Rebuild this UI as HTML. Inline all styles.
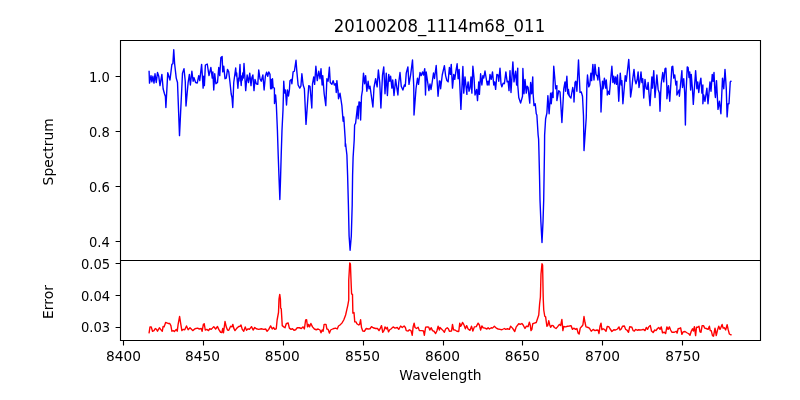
<!DOCTYPE html>
<html lang="en"><head><meta charset="utf-8"><title>20100208_1114m68_011</title>
<style>html,body{margin:0;padding:0;background:#fff;}body{width:800px;height:400px;overflow:hidden;}svg{display:block;}text{font-family:"DejaVu Sans","Liberation Sans",sans-serif;fill:#000;}</style></head><body>
<svg width="800" height="400" viewBox="0 0 800 400">
<rect x="0" y="0" width="800" height="400" fill="#fff"/>
<defs><clipPath id="cu"><rect x="120" y="40" width="640" height="220"/></clipPath><clipPath id="cl"><rect x="120" y="260" width="640" height="80"/></clipPath></defs>
<g clip-path="url(#cu)"><polyline points="149.10,71.50 149.50,83.12 151.00,75.62 151.88,81.88 152.88,76.25 154.00,83.12 155.00,73.75 156.25,82.50 157.50,72.50 158.75,76.25 160.00,85.62 161.88,74.38 163.12,88.75 164.40,93.50 165.40,96.50 165.90,107.50 167.75,72.75 170.00,80.00 171.88,64.38 172.88,63.75 173.75,49.75 174.62,63.75 176.25,78.12 177.50,82.50 179.50,135.60 182.50,73.12 184.00,68.75 185.25,81.25 186.00,106.00 188.12,82.50 189.38,74.38 190.38,85.00 191.88,71.25 193.12,81.25 194.00,77.75 195.62,82.50 197.25,83.12 198.75,75.62 199.75,80.62 201.62,64.38 203.12,88.12 203.75,76.25 204.38,85.62 205.38,65.00 207.25,64.00 209.00,75.62 210.88,67.50 212.25,78.12 212.88,71.88 213.75,90.00 214.75,73.75 215.88,83.75 217.50,82.50 218.75,67.50 219.75,75.62 220.88,57.50 222.12,56.50 222.75,71.88 223.75,66.25 225.00,78.75 226.25,78.12 227.50,69.38 228.75,71.88 230.00,82.50 231.20,94.00 232.00,97.50 232.75,107.50 233.75,82.50 235.70,68.00 236.30,76.00 236.70,73.00 237.20,80.00 237.90,88.30 238.60,78.00 239.00,81.00 240.00,64.50 240.60,79.00 241.20,85.50 241.80,76.00 242.30,80.00 242.80,73.00 243.30,78.00 244.00,63.50 244.80,76.00 245.70,90.60 247.12,75.00 248.50,82.50 249.75,73.12 251.00,85.62 251.88,77.50 252.88,75.00 254.00,90.62 255.00,79.38 256.25,83.75 257.75,84.38 258.75,70.00 260.00,78.75 261.25,81.25 262.88,75.00 264.12,90.00 265.38,76.25 266.62,72.25 267.75,76.25 268.75,71.88 270.00,74.38 270.62,88.75 271.25,79.38 271.88,88.75 272.50,78.75 273.12,87.50 274.38,88.12 274.50,103.50 275.60,95.00 276.30,104.00 277.40,130.00 278.20,155.00 279.10,180.00 279.85,199.50 280.50,180.00 281.20,155.00 282.00,130.00 283.00,110.00 283.40,95.00 283.75,81.25 284.50,93.00 285.50,90.00 286.50,105.00 287.50,90.00 288.50,96.00 289.40,90.00 290.00,80.62 291.25,79.38 291.88,83.75 293.12,71.88 294.38,71.25 296.00,60.25 296.88,71.88 298.12,85.00 299.75,88.12 300.88,86.25 301.88,73.75 303.12,85.00 304.38,88.75 306.00,124.40 308.75,85.62 310.00,86.25 311.80,108.00 312.50,83.75 313.75,76.88 314.62,84.38 315.88,66.25 317.25,80.62 318.75,71.25 320.00,78.75 321.00,68.75 322.12,85.00 322.75,75.62 323.75,88.75 324.20,94.00 325.80,105.60 326.88,78.75 328.12,81.25 329.38,67.25 330.25,82.50 331.88,84.38 333.12,80.62 334.38,85.00 335.62,83.75 336.25,92.50 336.88,80.62 338.12,93.12 338.12,90.00 338.12,93.12 338.12,92.50 338.50,98.75 340.00,93.12 341.88,105.62 343.12,121.25 343.75,116.88 345.25,140.00 345.25,146.25 345.60,143.75 346.90,155.00 347.60,175.00 348.40,205.00 349.10,236.00 350.10,250.20 351.30,236.00 352.20,205.00 352.60,175.00 353.10,157.50 354.20,140.00 354.62,125.00 355.62,123.12 357.50,106.25 358.12,118.75 359.00,101.88 360.00,102.50 360.62,120.00 361.50,96.25 362.50,90.00 362.50,87.50 363.50,73.12 364.62,83.75 365.62,75.62 366.88,91.25 368.12,81.25 369.00,88.75 370.00,86.25 372.90,107.00 374.00,87.50 375.62,78.75 377.12,86.88 378.38,70.00 379.75,82.50 380.90,108.00 382.50,75.00 383.75,66.88 385.00,93.75 386.25,73.12 387.40,95.50 388.75,74.38 389.75,81.25 390.62,76.25 391.88,88.12 392.75,80.00 394.00,95.50 395.62,79.38 396.88,88.12 397.90,95.00 398.75,82.50 400.00,72.50 401.25,86.25 402.88,90.00 404.38,85.00 405.25,86.25 406.25,73.12 407.88,66.88 409.00,84.38 410.62,75.00 412.50,60.00 413.75,86.25 414.00,115.00 416.00,88.75 417.50,78.12 418.50,84.38 420.00,72.50 421.25,75.62 422.50,71.88 423.50,75.00 424.75,68.75 425.50,95.00 426.20,72.00 427.50,81.00 428.90,90.60 430.00,84.00 431.00,89.50 432.00,83.50 433.50,73.00 434.50,78.50 436.20,65.50 438.05,96.30 439.40,81.00 440.00,81.25 440.62,88.75 442.25,75.00 444.38,65.62 445.62,75.62 446.88,80.62 448.12,81.88 449.38,67.50 450.38,74.38 451.25,64.38 452.50,88.12 453.75,74.38 454.75,79.38 456.00,70.62 457.12,63.75 458.12,78.75 459.12,69.38 460.90,109.40 462.88,66.50 463.75,93.12 465.00,76.88 466.90,94.40 466.90,90.00 468.12,81.88 469.00,91.25 470.00,88.12 471.00,76.88 471.88,93.12 472.88,66.25 474.00,77.50 475.00,95.00 476.62,89.38 477.50,100.60 478.75,81.88 479.40,94.40 480.62,73.75 481.88,85.00 482.88,75.62 483.75,78.12 485.00,71.00 486.25,78.75 487.25,85.00 488.12,81.25 489.00,85.00 490.00,74.38 491.25,79.38 492.50,71.88 493.75,85.00 494.62,81.88 495.62,89.38 496.88,74.38 498.12,75.00 498.75,81.25 500.00,68.12 501.00,83.75 501.88,86.88 503.12,83.12 504.38,83.75 505.88,71.88 507.12,81.88 508.12,81.25 509.00,90.62 510.00,70.62 511.00,92.50 512.88,61.88 514.00,81.88 515.62,71.25 516.62,85.00 517.75,68.12 517.75,85.00 518.75,97.50 520.62,103.12 522.50,96.25 522.88,68.50 524.00,93.75 525.00,79.38 526.25,93.12 527.12,86.25 528.12,87.50 529.75,103.10 530.62,82.50 531.62,93.75 532.75,76.88 533.12,93.75 534.00,105.62 535.25,103.75 536.25,113.75 536.88,115.00 538.12,135.00 538.60,139.00 538.90,150.00 539.50,175.00 540.00,200.00 540.90,222.00 542.00,242.50 543.00,222.00 543.70,200.00 544.10,175.00 544.50,150.00 544.62,135.00 545.62,118.75 546.88,113.12 547.88,95.62 549.12,113.75 550.00,101.25 550.62,93.12 551.25,103.75 552.25,92.50 553.12,97.50 553.12,86.25 553.75,66.25 554.62,76.25 555.62,88.75 556.88,85.62 556.88,100.60 558.75,90.62 560.00,91.88 560.40,97.50 561.90,122.50 563.10,101.25 563.75,88.75 565.00,81.88 565.62,91.25 566.88,76.25 567.75,93.75 568.50,89.38 568.50,95.00 568.50,90.00 569.40,96.25 570.90,98.10 572.75,87.50 573.75,93.12 574.00,102.00 575.00,82.50 575.88,81.25 576.88,91.25 578.50,60.00 580.00,92.50 581.25,91.88 582.50,96.25 583.50,116.25 584.00,150.60 586.25,117.50 586.90,85.00 587.50,75.00 588.75,86.88 589.75,85.00 590.88,73.12 591.62,80.62 592.88,64.38 594.00,80.00 595.00,64.38 596.00,74.38 597.25,76.25 597.88,80.00 598.75,67.50 599.75,80.00 600.62,88.12 601.00,112.00 602.50,81.25 603.12,88.75 604.38,78.12 605.62,88.12 606.25,80.00 607.25,91.25 607.25,95.00 608.75,91.25 609.40,94.40 610.62,80.00 611.88,66.25 612.88,82.50 613.75,76.25 614.62,83.75 615.62,76.88 616.50,84.38 617.50,75.00 618.75,101.25 620.25,73.12 621.25,85.00 621.88,80.62 622.90,103.75 624.38,86.25 625.25,75.62 626.25,81.25 627.25,72.50 628.75,59.38 629.62,73.75 630.60,97.00 631.88,88.12 632.75,78.75 634.00,69.38 635.00,80.00 636.00,83.75 637.12,80.00 638.12,71.88 639.00,87.50 640.00,81.25 641.00,71.88 641.88,82.50 642.75,78.75 643.75,98.00 645.00,79.38 646.25,88.75 647.25,89.38 648.12,82.50 650.00,105.60 651.88,76.88 652.50,88.12 653.75,70.62 655.00,97.50 656.88,75.00 658.12,89.38 659.30,93.00 660.00,111.25 660.70,93.00 661.25,83.75 662.75,72.50 663.75,81.88 665.00,68.75 665.88,68.12 666.88,87.50 666.90,98.75 668.50,85.62 669.75,101.25 671.88,66.88 672.75,66.25 673.75,78.12 674.75,75.00 675.88,85.00 676.88,81.25 676.88,95.00 679.12,90.00 679.40,96.25 681.88,70.62 682.50,87.50 683.75,78.75 684.70,93.00 685.40,125.00 686.05,93.00 687.25,66.88 688.12,67.50 689.00,77.50 689.75,71.88 690.62,90.00 691.25,74.38 692.50,90.00 693.30,104.40 695.62,70.62 696.88,88.75 697.75,81.88 698.75,92.50 699.75,83.75 700.88,78.12 701.88,93.12 702.88,85.00 702.88,103.75 703.75,95.00 705.00,101.25 706.88,88.12 708.00,103.75 710.00,81.88 711.00,91.25 712.25,74.38 713.12,81.25 714.00,72.50 715.00,93.75 715.40,97.50 716.50,80.62 718.00,109.40 719.40,101.25 720.90,113.75 722.50,78.12 723.75,88.75 725.00,69.38 726.25,88.12 727.10,116.90 728.10,103.75 729.00,103.75 730.25,81.88 730.90,81.25" fill="none" stroke="#0000ff" stroke-width="1.39" stroke-linejoin="round" stroke-linecap="square"/></g>
<g clip-path="url(#cl)"><polyline points="149.10,332.75 150.00,326.88 151.25,326.88 152.50,331.25 154.00,330.62 155.25,328.50 156.50,329.38 157.50,331.25 159.38,327.75 160.62,329.38 162.25,331.25 163.12,326.50 164.12,326.88 165.62,322.50 166.88,322.88 168.12,323.50 169.75,323.50 170.88,325.62 171.88,331.25 173.12,330.62 174.38,331.50 176.25,329.38 177.25,331.25 178.12,324.38 179.62,316.50 180.62,323.12 181.88,330.62 183.12,329.38 184.75,329.75 186.50,326.00 188.12,329.75 190.00,327.75 191.25,329.00 192.75,330.62 195.00,328.75 197.50,328.12 199.38,329.00 201.25,328.50 202.12,331.25 203.38,324.38 204.25,323.75 205.25,330.00 206.88,329.38 208.50,330.62 209.75,328.75 211.25,329.38 213.75,326.62 215.62,329.00 217.50,326.50 218.75,329.38 220.62,332.25 221.88,332.50 222.75,328.50 223.50,332.75 225.00,321.50 226.25,326.88 227.50,330.00 228.75,330.25 230.62,326.25 231.88,326.88 232.88,324.38 233.75,328.12 235.00,330.62 236.88,328.12 238.75,326.50 240.00,326.25 241.00,325.00 242.25,329.38 243.75,331.25 245.25,326.88 246.50,330.25 248.12,328.75 249.38,329.38 251.50,326.62 253.12,330.00 254.75,327.50 256.25,328.75 258.75,329.38 261.25,328.75 263.75,329.38 265.62,329.00 267.12,331.25 268.75,329.38 270.62,325.88 272.25,329.00 273.50,327.50 274.75,329.38 276.25,328.75 277.12,320.00 278.50,312.50 279.00,299.00 279.75,294.40 280.40,299.00 280.62,308.12 281.25,308.75 282.25,325.62 283.75,326.88 285.00,327.75 286.25,323.75 288.12,322.88 289.38,328.12 291.00,329.38 292.50,328.75 294.00,330.25 295.62,329.75 297.25,327.75 299.38,327.75 301.25,328.50 303.12,326.88 304.38,329.00 305.62,320.00 306.62,319.75 307.50,326.88 308.50,324.38 309.50,326.88 310.88,323.50 312.50,326.88 314.38,329.00 316.25,329.75 318.12,329.00 320.00,330.00 321.00,332.75 322.12,330.00 323.12,331.25 324.12,324.38 326.00,324.38 326.88,329.00 328.12,329.38 329.38,333.12 330.62,330.00 333.12,328.75 335.62,328.12 337.25,329.00 338.50,326.00 340.00,325.00 341.88,323.12 343.75,320.00 345.62,315.00 346.88,309.38 347.75,305.62 348.75,300.00 348.75,280.00 349.75,263.00 350.40,264.00 351.25,286.00 351.60,294.00 352.50,294.40 352.60,300.00 352.88,313.12 354.00,312.50 354.75,321.88 356.00,321.88 356.88,323.75 358.75,325.00 359.62,324.38 360.62,319.75 361.50,327.50 362.75,331.00 364.38,331.25 366.25,328.50 368.12,329.00 370.00,328.75 371.50,326.62 373.12,327.75 375.62,328.50 377.50,328.50 379.00,330.62 380.38,328.12 381.50,325.62 382.75,332.25 384.00,330.62 385.00,326.88 386.25,329.00 387.25,327.25 388.50,331.88 389.75,329.75 391.00,329.00 393.12,326.88 395.00,328.12 397.25,327.50 398.75,329.38 400.62,326.00 402.25,327.50 404.12,326.00 405.38,327.50 406.25,330.62 408.12,331.00 409.38,329.75 411.00,330.62 412.25,335.25 413.12,326.88 414.12,323.12 415.00,327.50 416.50,328.50 418.12,327.25 419.38,330.62 421.88,330.62 423.50,331.00 424.38,335.25 425.62,327.25 427.50,326.88 428.75,327.25 429.75,330.00 431.25,327.75 432.50,330.62 434.00,331.25 435.62,333.50 436.88,331.00 438.12,326.25 439.38,330.00 440.00,327.50 441.50,329.00 443.12,330.62 444.38,332.25 445.62,329.00 447.25,327.75 448.50,329.00 449.38,331.25 451.50,331.00 452.50,324.38 453.50,329.75 455.00,330.00 456.88,331.25 458.75,331.50 459.75,323.12 460.62,326.25 461.50,325.00 462.50,322.50 463.75,324.38 465.38,328.75 466.62,325.62 468.12,329.00 470.00,330.38 471.50,326.25 472.88,331.00 474.38,326.88 476.25,326.62 478.12,323.12 479.38,325.00 480.62,330.00 481.88,326.00 483.12,327.75 485.00,328.12 486.88,329.00 488.12,327.75 489.38,329.00 491.25,327.75 492.50,328.12 494.38,326.25 496.25,328.12 498.12,329.00 500.00,329.38 501.88,329.75 504.38,328.50 505.62,329.38 507.50,328.75 509.38,329.38 510.62,326.25 512.50,328.12 513.75,330.00 514.75,331.50 516.25,326.88 518.75,323.75 520.25,324.38 521.88,323.50 523.12,325.00 525.00,328.50 526.25,326.25 528.12,326.50 529.38,322.25 530.25,325.00 531.00,330.62 531.88,329.38 532.75,323.75 534.38,323.12 536.25,322.50 537.50,318.75 538.75,315.00 539.62,303.75 540.40,297.00 541.00,274.00 542.00,263.75 542.60,265.00 543.10,292.50 543.30,300.00 543.75,310.00 544.75,316.25 545.62,316.88 546.88,326.25 547.75,325.62 548.75,320.62 549.75,325.00 550.62,327.25 551.88,325.38 553.12,325.62 554.38,327.50 556.00,328.50 557.50,326.88 559.38,324.38 560.62,325.62 561.88,319.38 562.88,330.62 563.75,326.50 565.62,326.88 567.50,326.25 569.38,326.00 571.00,325.62 572.50,329.38 573.75,328.12 575.62,329.38 576.88,328.50 578.12,333.12 579.12,334.00 580.25,328.12 581.88,326.25 582.88,325.00 584.00,316.50 585.00,322.50 586.00,326.88 587.50,327.25 589.38,328.12 591.25,331.25 593.12,329.38 595.00,330.62 596.88,330.00 598.12,330.25 599.00,333.50 600.00,326.25 601.00,323.12 601.88,329.75 603.12,328.75 604.38,329.38 606.00,331.25 607.25,326.50 608.75,326.62 610.00,328.75 611.88,331.50 613.75,329.75 615.62,330.00 617.50,329.00 619.00,326.88 620.00,330.00 621.25,329.00 622.50,326.25 624.38,326.00 625.62,329.38 626.88,330.00 628.50,332.25 629.75,326.62 631.88,327.25 633.12,330.62 634.38,331.00 635.62,329.38 637.25,330.25 638.75,329.75 640.00,330.00 641.88,329.75 643.50,329.38 645.00,330.62 646.25,327.50 647.50,329.38 648.75,326.88 650.25,325.38 651.50,331.00 653.12,332.50 654.75,330.00 656.00,330.62 657.50,328.50 658.75,327.50 660.00,329.38 661.25,326.88 662.50,332.75 664.38,332.25 665.62,333.50 666.88,326.88 668.12,329.38 669.38,326.88 670.62,330.00 671.88,332.25 674.38,332.25 676.25,331.25 677.12,333.12 678.12,328.75 679.38,328.50 680.62,327.75 681.88,334.38 683.12,331.88 685.00,331.50 686.88,332.75 688.75,333.75 690.00,335.25 691.25,331.25 692.50,328.75 693.38,331.00 694.38,326.62 695.62,335.62 696.50,327.25 697.75,327.25 699.00,326.25 700.00,331.88 701.00,332.25 702.12,325.62 703.50,325.62 704.75,328.12 706.25,328.50 708.12,329.38 709.38,326.25 710.25,330.62 711.25,330.62 712.50,335.62 713.50,336.25 715.00,328.12 716.25,335.62 717.50,330.00 718.75,326.25 720.00,329.38 721.00,327.25 722.12,324.38 723.12,328.12 724.38,327.75 725.62,330.00 727.12,324.75 728.12,329.38 729.38,334.00 730.62,334.75 730.90,334.75" fill="none" stroke="#ff0000" stroke-width="1.39" stroke-linejoin="round" stroke-linecap="square"/></g>
<path d="M123.5 340.5V345.4 M203.5 340.5V345.4 M283.5 340.5V345.4 M363.5 340.5V345.4 M443.5 340.5V345.4 M522.5 340.5V345.4 M602.5 340.5V345.4 M682.5 340.5V345.4 M120.5 76.5H115.6 M120.5 131.5H115.6 M120.5 186.5H115.6 M120.5 241.5H115.6 M120.5 263.5H115.6 M120.5 295.5H115.6 M120.5 327.5H115.6" stroke="#000" stroke-width="1.11" fill="none"/>
<path d="M120.5 40.5H760.5V340.5H120.5Z M120.5 260.5H760.5" stroke="#000" stroke-width="1.11" fill="none" stroke-linejoin="miter" stroke-linecap="square"/>
<text transform="translate(123.60 361.20) scale(0.99 1.0)" font-size="13.89" text-anchor="middle">8400</text>
<text transform="translate(202.50 361.20) scale(0.99 1.0)" font-size="13.89" text-anchor="middle">8450</text>
<text transform="translate(282.20 361.20) scale(0.99 1.0)" font-size="13.89" text-anchor="middle">8500</text>
<text transform="translate(362.55 361.20) scale(0.99 1.0)" font-size="13.89" text-anchor="middle">8550</text>
<text transform="translate(442.50 361.20) scale(0.99 1.0)" font-size="13.89" text-anchor="middle">8600</text>
<text transform="translate(522.15 361.20) scale(0.99 1.0)" font-size="13.89" text-anchor="middle">8650</text>
<text transform="translate(602.50 361.20) scale(0.99 1.0)" font-size="13.89" text-anchor="middle">8700</text>
<text transform="translate(682.75 361.20) scale(0.99 1.0)" font-size="13.89" text-anchor="middle">8750</text>
<text transform="translate(109.80 81.55) scale(0.945 1.0)" font-size="13.89" text-anchor="end">1.0</text>
<text transform="translate(109.80 136.55) scale(0.945 1.0)" font-size="13.89" text-anchor="end">0.8</text>
<text transform="translate(109.80 191.55) scale(0.945 1.0)" font-size="13.89" text-anchor="end">0.6</text>
<text transform="translate(109.80 246.55) scale(0.945 1.0)" font-size="13.89" text-anchor="end">0.4</text>
<text transform="translate(110.20 268.65) scale(0.945 1.0)" font-size="13.89" text-anchor="end">0.05</text>
<text transform="translate(110.20 300.85) scale(0.945 1.0)" font-size="13.89" text-anchor="end">0.04</text>
<text transform="translate(110.20 331.60) scale(0.945 1.0)" font-size="13.89" text-anchor="end">0.03</text>
<text transform="translate(440.50 379.60)" font-size="13.89" text-anchor="middle">Wavelength</text>
<text transform="translate(52.50 151.80) rotate(-90)" font-size="13.89" text-anchor="middle">Spectrum</text>
<text transform="translate(52.50 302.00) rotate(-90)" font-size="13.89" text-anchor="middle">Error</text>
<text transform="translate(439.50 31.80) scale(0.992 1.085)" font-size="16.67" text-anchor="middle">20100208_1114m68_011</text>
</svg></body></html>
